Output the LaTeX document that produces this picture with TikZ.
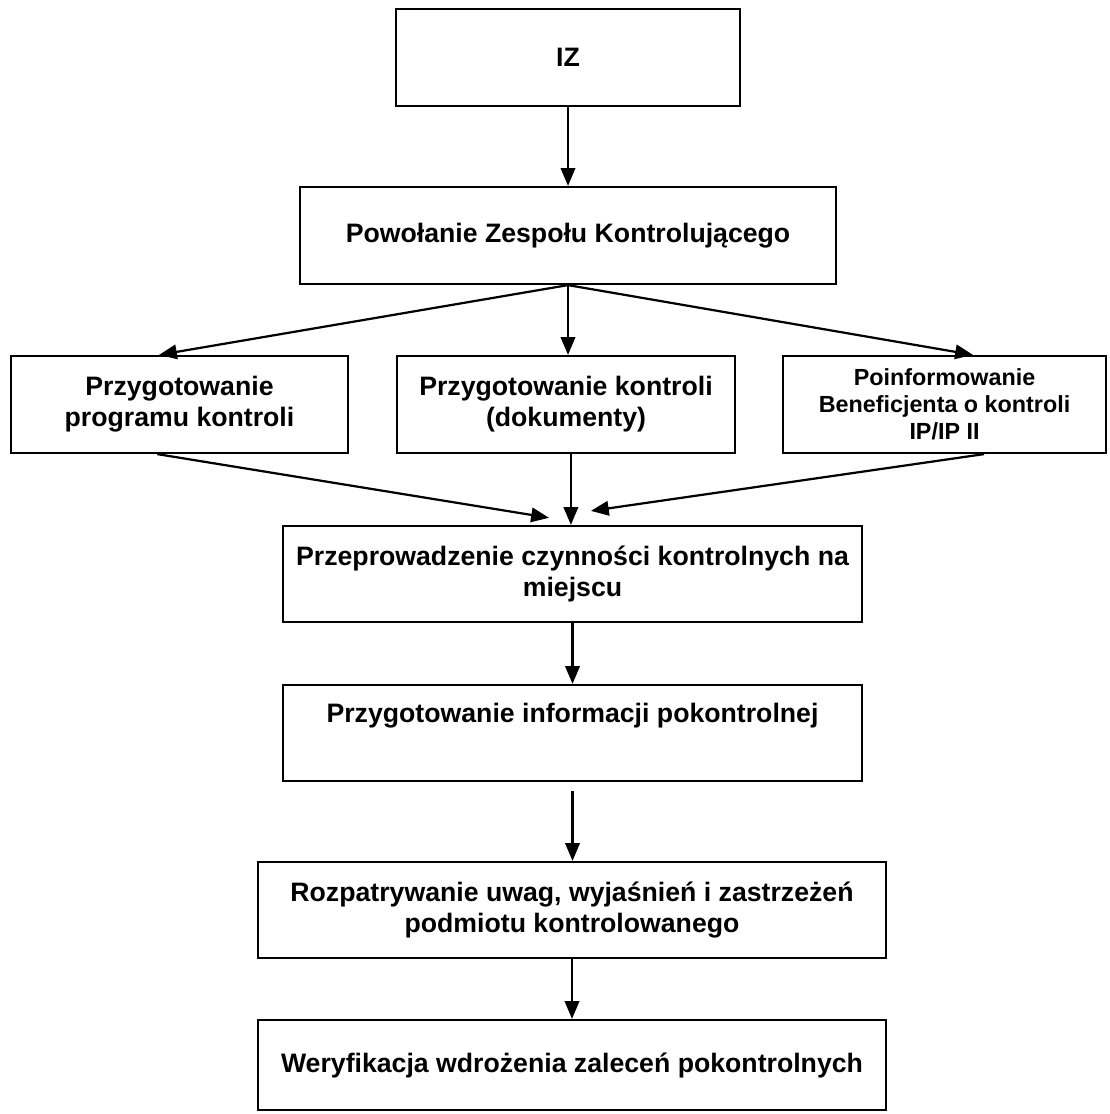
\documentclass[tikz,border=0pt]{standalone}
\usepackage{fontspec}
\setmainfont{Liberation Sans}
\usetikzlibrary{arrows.meta}
\begin{document}
\begin{tikzpicture}[x=.45pt,y=-.45pt,line width=1pt,
  box/.style 2 args={draw,align=center,inner sep=2pt,minimum width=#1*.45pt,
    minimum height=#2*.45pt,font=\fontsize{12}{14}\selectfont\bfseries},
  arr/.style={-{Triangle[length=8pt,width=6.5pt]}}]
\useasboundingbox (0,0) rectangle (1109,1114);
\node[box={344}{97}] (iz) at (568,57.5) {IZ};
\node[box={536}{97}] (pow) at (568,235.5) {Powołanie Zespołu Kontrolującego};
\node[box={337}{97}] (prog) at (179.5,404.5) {Przygotowanie\\programu kontroli};
\node[box={338}{97}] (dok) at (566,404.5) {Przygotowanie kontroli\\(dokumenty)};
\node[box={323}{97},font=\fontsize{10.5}{12.2}\selectfont\bfseries] (benef) at (944.5,404.5)
  {Poinformowanie\\Beneficjenta o kontroli\\IP/IP II};
\node[box={579}{96}] (prz) at (572.5,574) {Przeprowadzenie czynności kontrolnych na\\miejscu};
\node[box={579}{96}] (info) at (572.5,733) {Przygotowanie informacji pokontrolnej\\[4pt]\mbox{}};
\node[box={628}{96}] (rozp) at (572,910) {Rozpatrywanie uwag, wyjaśnień i zastrzeżeń\\podmiotu kontrolowanego};
\node[box={628}{90}] (wer) at (572,1065) {Weryfikacja wdrożenia zaleceń pokontrolnych};
% strzalki
\draw[arr] (iz) -- (pow);
\draw[arr] (pow.south) -- ([xshift=-9.2pt]prog.north);
\draw[arr] (pow.south) -- (pow.south |- dok.north);
\draw[arr] (pow.south) -- ([xshift=12.8pt]benef.north);
\draw[arr] ([xshift=-10pt]prog.south) -- ([xshift=-10.6pt,yshift=3.2pt]prz.north);
\draw[arr] ([xshift=2.2pt]dok.south) -- ([xshift=2.2pt]dok.south |- prz.north);
\draw[arr] ([xshift=17.8pt]benef.south) -- ([xshift=8.3pt,yshift=6.3pt]prz.north);
\draw[arr] (prz) -- (info);
\draw[arr] ([yshift=-4pt]info.south) -- (info.south |- rozp.north);
\draw[arr] (rozp) -- (wer);
\end{tikzpicture}
\end{document}
